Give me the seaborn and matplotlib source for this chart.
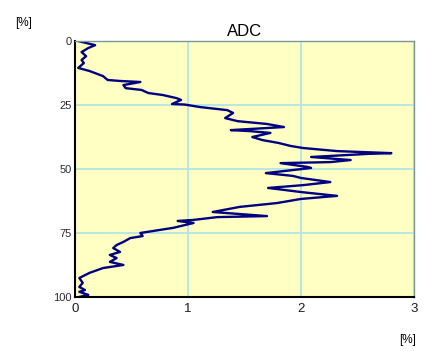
import pandas as pd
import numpy as np
import matplotlib
matplotlib.use("Agg")
import matplotlib.pyplot as plt
import seaborn as sns

# profile values (depth in %, value in %)
depth = [0.0, 1.6, 2.7, 4.3, 5.9, 7.4, 8.6, 10.5, 11.7, 13.7, 15.2, 15.6, 16.0, 17.2,
         18.4, 19.1, 20.3, 21.1, 22.3, 23.0, 24.6, 24.8, 25.8, 27.0, 28.1, 30.1, 31.3,
         32.4, 33.6, 34.8, 35.2, 35.9, 37.5, 38.7, 39.8, 41.0, 41.8, 43.0, 43.8, 44.1,
         45.3, 46.5, 47.3, 47.7, 49.2, 49.6, 51.6, 52.7, 53.5, 55.1, 56.3, 57.4, 59.0,
         60.5, 61.7, 63.3, 64.8, 66.8, 68.4, 68.8, 69.9, 70.3, 71.1, 73.0, 75.0, 76.2,
         77.0, 78.5, 79.7, 80.9, 82.4, 83.6, 84.8, 86.3, 87.5, 88.7, 90.6, 92.6, 94.5,
         96.1, 97.3, 98.0, 99.2, 100.0]
adc = [0.03, 0.18, 0.12, 0.06, 0.10, 0.06, 0.08, 0.03, 0.13, 0.25, 0.29, 0.40, 0.58, 0.43,
       0.45, 0.59, 0.65, 0.78, 0.90, 0.94, 0.86, 0.97, 1.11, 1.35, 1.40, 1.33, 1.44,
       1.70, 1.85, 1.38, 1.55, 1.73, 1.57, 1.66, 1.80, 1.91, 2.02, 2.32, 2.80, 2.59,
       2.09, 2.44, 2.26, 1.82, 2.06, 2.09, 1.69, 1.93, 2.00, 2.26, 2.02, 1.71, 2.00,
       2.32, 2.00, 1.79, 1.46, 1.22, 1.70, 1.26, 1.05, 0.91, 1.05, 0.87, 0.58, 0.60,
       0.49, 0.43, 0.37, 0.34, 0.40, 0.31, 0.37, 0.31, 0.43, 0.25, 0.13, 0.04, 0.07,
       0.04, 0.09, 0.04, 0.12, 0.04]

xticks = [0, 1, 2, 3]
yticks = [0, 25, 50, 75, 100]

df = pd.DataFrame({"depth": depth, "adc": adc})

plt.rcParams["font.family"] = ["Liberation Sans Narrow", "Liberation Sans", "DejaVu Sans"]

fig = plt.figure(figsize=(4.25, 3.51), dpi=100)
ax = fig.add_axes([0.176, 0.154, 0.798, 0.729])
ax.set_facecolor("#ffffc4")

sns.lineplot(data=df, x="adc", y="depth", sort=False, estimator=None,
             color="#000080", linewidth=1.7, ax=ax)

ax.set_xlim(0, 3)
ax.set_ylim(100, 0)
ax.set_xticks(xticks)
ax.set_yticks(yticks)
ax.set_xticklabels([str(t) for t in xticks], fontsize=9.5, color="#1a1a2a")
ax.set_yticklabels([str(t) for t in yticks], fontsize=8, color="#2a2a3a")
ax.tick_params(axis="x", length=0, pad=4)
ax.tick_params(axis="y", length=0, pad=2)
ax.grid(True, color="#b2e6e6", linewidth=1.3)
ax.set_axisbelow(True)
ax.set_xlabel("")
ax.set_ylabel("")

for side in ["left", "bottom"]:
    ax.spines[side].set_color("black")
    ax.spines[side].set_linewidth(1.5)
for side in ["top", "right"]:
    ax.spines[side].set_color("#7a9a9a")
    ax.spines[side].set_linewidth(1.0)

ax.set_title("ADC", fontsize=12, pad=4)
fig.text(0.055, 0.935, "[%]", fontsize=8.5, ha="center", va="center")
fig.text(0.958, 0.03, "[%]", fontsize=8.5, ha="center", va="center")

fig.savefig("out.png", dpi=100, facecolor="white")
